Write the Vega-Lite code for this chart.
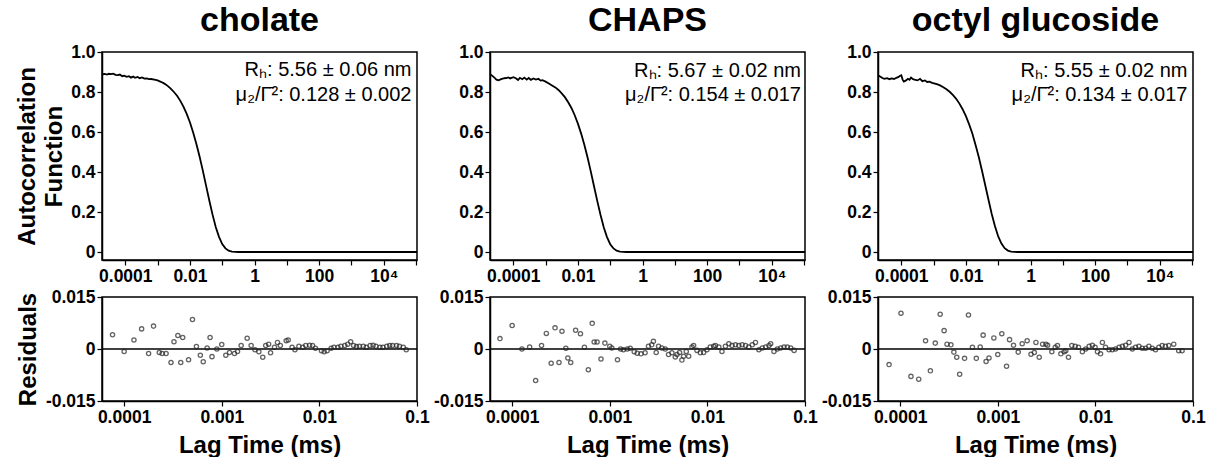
{
  "$schema": "https://vega.github.io/schema/vega-lite/v6.json",
  "background": "white",
  "padding": {"left": 14, "top": 3, "right": 2, "bottom": 2},
  "config": {
    "view": {"stroke": "black", "strokeWidth": 1.5},
    "font": "Liberation Sans",
    "axis": {"grid": false, "domainColor": "black", "domainWidth": 1.5, "tickColor": "black", "tickWidth": 1.2, "tickSize": 5,
      "labelFont": "Liberation Sans", "labelFontWeight": "bold", "labelFontSize": 17.5, "labelColor": "black", "labelPadding": 2,
      "labelOverlap": false, "labelFlush": false,
      "titleFont": "Liberation Sans", "titleFontWeight": "bold", "titleFontSize": 24, "titleColor": "black"},
    "title": {"font": "Liberation Sans", "fontSize": 34, "fontWeight": "bold", "color": "black", "offset": 5}
  },
  "datasets": {
    "acf": [
      {"d":"cholate","t":1.9e-5,"g":0.888},{"d":"cholate","t":2.3e-5,"g":0.890},{"d":"cholate","t":2.7e-5,"g":0.887},{"d":"cholate","t":3.1e-5,"g":0.891},{"d":"cholate","t":3.6e-5,"g":0.889},{"d":"cholate","t":4.2e-5,"g":0.892},{"d":"cholate","t":5e-5,"g":0.886},{"d":"cholate","t":5.8e-5,"g":0.884},{"d":"cholate","t":6.8e-5,"g":0.887},{"d":"cholate","t":8e-5,"g":0.879},{"d":"cholate","t":9.3e-5,"g":0.882},{"d":"cholate","t":1.1e-4,"g":0.876},{"d":"cholate","t":1.3e-4,"g":0.879},{"d":"cholate","t":1.5e-4,"g":0.872},{"d":"cholate","t":1.75e-4,"g":0.877},{"d":"cholate","t":2e-4,"g":0.871},{"d":"cholate","t":2.4e-4,"g":0.875},{"d":"cholate","t":2.8e-4,"g":0.869},{"d":"cholate","t":3.3e-4,"g":0.873},{"d":"cholate","t":3.9e-4,"g":0.867},{"d":"cholate","t":4.6e-4,"g":0.868},{"d":"cholate","t":5.4e-4,"g":0.864},{"d":"cholate","t":6.3e-4,"g":0.865},{"d":"cholate","t":7.9e-4,"g":0.862},{"d":"cholate","t":1e-3,"g":0.858},{"d":"cholate","t":1.26e-3,"g":0.851},{"d":"cholate","t":1.58e-3,"g":0.843},{"d":"cholate","t":2e-3,"g":0.832},{"d":"cholate","t":2.5e-3,"g":0.818},{"d":"cholate","t":3.2e-3,"g":0.800},{"d":"cholate","t":4e-3,"g":0.781},{"d":"cholate","t":5e-3,"g":0.757},{"d":"cholate","t":6.3e-3,"g":0.727},{"d":"cholate","t":7.9e-3,"g":0.692},{"d":"cholate","t":0.01,"g":0.649},{"d":"cholate","t":0.0126,"g":0.598},{"d":"cholate","t":0.0158,"g":0.541},{"d":"cholate","t":0.02,"g":0.476},{"d":"cholate","t":0.025,"g":0.408},{"d":"cholate","t":0.032,"g":0.328},{"d":"cholate","t":0.04,"g":0.256},{"d":"cholate","t":0.05,"g":0.188},{"d":"cholate","t":0.063,"g":0.125},{"d":"cholate","t":0.079,"g":0.077},{"d":"cholate","t":0.1,"g":0.040},{"d":"cholate","t":0.126,"g":0.018},{"d":"cholate","t":0.158,"g":0.0066},{"d":"cholate","t":0.2,"g":0.0018},{"d":"cholate","t":0.25,"g":0.0004},{"d":"cholate","t":0.32,"g":0.0001},{"d":"cholate","t":0.5,"g":0},{"d":"cholate","t":1,"g":0},{"d":"cholate","t":10,"g":0},{"d":"cholate","t":100,"g":0},{"d":"cholate","t":1000,"g":0},{"d":"cholate","t":10000,"g":0},{"d":"cholate","t":107000,"g":0},
      {"d":"CHAPS","t":1.9e-5,"g":0.889},{"d":"CHAPS","t":2.2e-5,"g":0.882},{"d":"CHAPS","t":2.6e-5,"g":0.872},{"d":"CHAPS","t":3e-5,"g":0.862},{"d":"CHAPS","t":3.5e-5,"g":0.858},{"d":"CHAPS","t":4.2e-5,"g":0.864},{"d":"CHAPS","t":5e-5,"g":0.868},{"d":"CHAPS","t":6e-5,"g":0.870},{"d":"CHAPS","t":7e-5,"g":0.873},{"d":"CHAPS","t":8e-5,"g":0.868},{"d":"CHAPS","t":1e-4,"g":0.874},{"d":"CHAPS","t":1.2e-4,"g":0.869},{"d":"CHAPS","t":1.4e-4,"g":0.860},{"d":"CHAPS","t":1.6e-4,"g":0.871},{"d":"CHAPS","t":1.9e-4,"g":0.864},{"d":"CHAPS","t":2.2e-4,"g":0.872},{"d":"CHAPS","t":2.6e-4,"g":0.862},{"d":"CHAPS","t":3e-4,"g":0.870},{"d":"CHAPS","t":3.5e-4,"g":0.861},{"d":"CHAPS","t":4.2e-4,"g":0.868},{"d":"CHAPS","t":5e-4,"g":0.862},{"d":"CHAPS","t":6e-4,"g":0.866},{"d":"CHAPS","t":7e-4,"g":0.857},{"d":"CHAPS","t":8e-4,"g":0.859},{"d":"CHAPS","t":1e-3,"g":0.852},{"d":"CHAPS","t":1.26e-3,"g":0.843},{"d":"CHAPS","t":1.58e-3,"g":0.833},{"d":"CHAPS","t":2e-3,"g":0.823},{"d":"CHAPS","t":2.5e-3,"g":0.810},{"d":"CHAPS","t":3.2e-3,"g":0.792},{"d":"CHAPS","t":4e-3,"g":0.773},{"d":"CHAPS","t":5e-3,"g":0.749},{"d":"CHAPS","t":6.3e-3,"g":0.720},{"d":"CHAPS","t":7.9e-3,"g":0.685},{"d":"CHAPS","t":0.01,"g":0.642},{"d":"CHAPS","t":0.0126,"g":0.592},{"d":"CHAPS","t":0.0158,"g":0.536},{"d":"CHAPS","t":0.02,"g":0.471},{"d":"CHAPS","t":0.025,"g":0.403},{"d":"CHAPS","t":0.032,"g":0.324},{"d":"CHAPS","t":0.04,"g":0.253},{"d":"CHAPS","t":0.05,"g":0.186},{"d":"CHAPS","t":0.063,"g":0.124},{"d":"CHAPS","t":0.079,"g":0.076},{"d":"CHAPS","t":0.1,"g":0.039},{"d":"CHAPS","t":0.126,"g":0.018},{"d":"CHAPS","t":0.158,"g":0.0065},{"d":"CHAPS","t":0.2,"g":0.0018},{"d":"CHAPS","t":0.25,"g":0.0004},{"d":"CHAPS","t":0.32,"g":0},{"d":"CHAPS","t":1,"g":0},{"d":"CHAPS","t":10,"g":0},{"d":"CHAPS","t":100,"g":0},{"d":"CHAPS","t":1000,"g":0},{"d":"CHAPS","t":10000,"g":0},{"d":"CHAPS","t":107000,"g":0},
      {"d":"OG","t":1.9e-5,"g":0.884},{"d":"OG","t":2.2e-5,"g":0.878},{"d":"OG","t":2.6e-5,"g":0.870},{"d":"OG","t":3e-5,"g":0.866},{"d":"OG","t":3.6e-5,"g":0.869},{"d":"OG","t":4.3e-5,"g":0.864},{"d":"OG","t":5e-5,"g":0.868},{"d":"OG","t":6e-5,"g":0.865},{"d":"OG","t":7e-5,"g":0.871},{"d":"OG","t":8e-5,"g":0.874},{"d":"OG","t":9e-5,"g":0.880},{"d":"OG","t":1e-4,"g":0.884},{"d":"OG","t":1.1e-4,"g":0.862},{"d":"OG","t":1.2e-4,"g":0.852},{"d":"OG","t":1.4e-4,"g":0.858},{"d":"OG","t":1.6e-4,"g":0.866},{"d":"OG","t":1.8e-4,"g":0.861},{"d":"OG","t":2e-4,"g":0.872},{"d":"OG","t":2.3e-4,"g":0.864},{"d":"OG","t":2.7e-4,"g":0.861},{"d":"OG","t":3.2e-4,"g":0.858},{"d":"OG","t":3.8e-4,"g":0.866},{"d":"OG","t":4.5e-4,"g":0.854},{"d":"OG","t":5.4e-4,"g":0.858},{"d":"OG","t":6.3e-4,"g":0.850},{"d":"OG","t":7.5e-4,"g":0.852},{"d":"OG","t":9e-4,"g":0.846},{"d":"OG","t":1.26e-3,"g":0.839},{"d":"OG","t":1.58e-3,"g":0.833},{"d":"OG","t":2e-3,"g":0.824},{"d":"OG","t":2.5e-3,"g":0.814},{"d":"OG","t":3.2e-3,"g":0.800},{"d":"OG","t":4e-3,"g":0.784},{"d":"OG","t":5e-3,"g":0.766},{"d":"OG","t":6.3e-3,"g":0.742},{"d":"OG","t":7.9e-3,"g":0.714},{"d":"OG","t":0.01,"g":0.679},{"d":"OG","t":0.0126,"g":0.638},{"d":"OG","t":0.0158,"g":0.593},{"d":"OG","t":0.02,"g":0.534},{"d":"OG","t":0.025,"g":0.475},{"d":"OG","t":0.032,"g":0.401},{"d":"OG","t":0.04,"g":0.331},{"d":"OG","t":0.05,"g":0.261},{"d":"OG","t":0.063,"g":0.190},{"d":"OG","t":0.079,"g":0.130},{"d":"OG","t":0.1,"g":0.078},{"d":"OG","t":0.126,"g":0.042},{"d":"OG","t":0.158,"g":0.019},{"d":"OG","t":0.2,"g":0.0071},{"d":"OG","t":0.25,"g":0.0021},{"d":"OG","t":0.32,"g":0.0004},{"d":"OG","t":0.4,"g":0.0001},{"d":"OG","t":1,"g":0},{"d":"OG","t":10,"g":0},{"d":"OG","t":100,"g":0},{"d":"OG","t":1000,"g":0},{"d":"OG","t":10000,"g":0},{"d":"OG","t":107000,"g":0}
    ],
    "ann": [
      {"d":"cholate","t":72000,"g":0.88,"label":"Rₕ: 5.56 ± 0.06 nm"},
      {"d":"cholate","t":72000,"g":0.755,"label":"μ₂/Γ̄²: 0.128 ± 0.002"},
      {"d":"CHAPS","t":80000,"g":0.877,"label":"Rₕ: 5.67 ± 0.02 nm"},
      {"d":"CHAPS","t":80000,"g":0.754,"label":"μ₂/Γ̄²: 0.154 ± 0.017"},
      {"d":"OG","t":72000,"g":0.877,"label":"Rₕ: 5.55 ± 0.02 nm"},
      {"d":"OG","t":72000,"g":0.754,"label":"μ₂/Γ̄²: 0.134 ± 0.017"}
    ],
    "res": [
      {"d":"cholate","t":7.6e-5,"r":0.0041},{"d":"cholate","t":1.0e-4,"r":-0.0007},{"d":"cholate","t":1.26e-4,"r":0.0026},{"d":"cholate","t":1.51e-4,"r":0.0058},{"d":"cholate","t":1.78e-4,"r":-0.0013},{"d":"cholate","t":2.0e-4,"r":0.0066},{"d":"cholate","t":2.29e-4,"r":-0.0010},{"d":"cholate","t":2.45e-4,"r":-0.0013},{"d":"cholate","t":2.69e-4,"r":-0.0013},{"d":"cholate","t":3.02e-4,"r":-0.0039},{"d":"cholate","t":3.24e-4,"r":0.0021},{"d":"cholate","t":3.55e-4,"r":0.0039},{"d":"cholate","t":3.80e-4,"r":-0.0039},{"d":"cholate","t":3.98e-4,"r":0.0033},{"d":"cholate","t":4.57e-4,"r":-0.0031},{"d":"cholate","t":5.01e-4,"r":0.0085},{"d":"cholate","t":5.50e-4,"r":0.0007},{"d":"cholate","t":6.03e-4,"r":-0.0018},{"d":"cholate","t":6.46e-4,"r":-0.0037},{"d":"cholate","t":7.08e-4,"r":0.0003},{"d":"cholate","t":7.59e-4,"r":0.0033},{"d":"cholate","t":7.94e-4,"r":-0.0022},{"d":"cholate","t":8.91e-4,"r":0.0},{"d":"cholate","t":1.0e-3,"r":0.0013},{"d":"cholate","t":1.10e-3,"r":-0.0018},{"d":"cholate","t":1.20e-3,"r":-0.0010},{"d":"cholate","t":1.35e-3,"r":-0.0013},{"d":"cholate","t":1.45e-3,"r":-0.0007},{"d":"cholate","t":1.58e-3,"r":0.0010},{"d":"cholate","t":1.82e-3,"r":0.0031},{"d":"cholate","t":2.0e-3,"r":0.0010},{"d":"cholate","t":2.19e-3,"r":-0.0002},{"d":"cholate","t":2.40e-3,"r":-0.0008},{"d":"cholate","t":2.63e-3,"r":-0.0024},{"d":"cholate","t":2.82e-3,"r":0.0010},{"d":"cholate","t":3.02e-3,"r":0.0014},{"d":"cholate","t":3.16e-3,"r":-0.0011},{"d":"cholate","t":3.47e-3,"r":0.0005},{"d":"cholate","t":3.72e-3,"r":0.0019},{"d":"cholate","t":3.98e-3,"r":0.0010},{"d":"cholate","t":4.57e-3,"r":0.0024},{"d":"cholate","t":4.79e-3,"r":0.0026},{"d":"cholate","t":5.25e-3,"r":0.0005},{"d":"cholate","t":5.62e-3,"r":-0.0002},{"d":"cholate","t":6.17e-3,"r":0.0008},{"d":"cholate","t":6.76e-3,"r":0.0005},{"d":"cholate","t":7.24e-3,"r":0.0010},{"d":"cholate","t":7.94e-3,"r":0.0011},{"d":"cholate","t":8.51e-3,"r":0.0010},{"d":"cholate","t":9.12e-3,"r":0.0002},{"d":"cholate","t":0.0105,"r":-0.0005},{"d":"cholate","t":0.0112,"r":-0.0008},{"d":"cholate","t":0.0120,"r":-0.0005},{"d":"cholate","t":0.0132,"r":0.0002},{"d":"cholate","t":0.0141,"r":0.0005},{"d":"cholate","t":0.0155,"r":0.0005},{"d":"cholate","t":0.0166,"r":0.0008},{"d":"cholate","t":0.0182,"r":0.0010},{"d":"cholate","t":0.0195,"r":0.0014},{"d":"cholate","t":0.0209,"r":0.0021},{"d":"cholate","t":0.0224,"r":0.0010},{"d":"cholate","t":0.0240,"r":0.0007},{"d":"cholate","t":0.0257,"r":0.0008},{"d":"cholate","t":0.0282,"r":0.0008},{"d":"cholate","t":0.0302,"r":0.0005},{"d":"cholate","t":0.0331,"r":0.0010},{"d":"cholate","t":0.0355,"r":0.0011},{"d":"cholate","t":0.0380,"r":0.0008},{"d":"cholate","t":0.0417,"r":0.0005},{"d":"cholate","t":0.0447,"r":0.0005},{"d":"cholate","t":0.0490,"r":0.0008},{"d":"cholate","t":0.0525,"r":0.0010},{"d":"cholate","t":0.0562,"r":0.0010},{"d":"cholate","t":0.0617,"r":0.0010},{"d":"cholate","t":0.0661,"r":0.0008},{"d":"cholate","t":0.0724,"r":0.0005},{"d":"cholate","t":0.0776,"r":-0.0002},
      {"d":"CHAPS","t":7.5e-5,"r":0.0030},{"d":"CHAPS","t":1.0e-4,"r":0.0068},{"d":"CHAPS","t":1.26e-4,"r":0.0},{"d":"CHAPS","t":1.51e-4,"r":0.0006},{"d":"CHAPS","t":1.74e-4,"r":-0.0091},{"d":"CHAPS","t":2.0e-4,"r":0.0010},{"d":"CHAPS","t":2.24e-4,"r":0.0045},{"d":"CHAPS","t":2.51e-4,"r":-0.0041},{"d":"CHAPS","t":2.75e-4,"r":0.0061},{"d":"CHAPS","t":3.02e-4,"r":-0.0039},{"d":"CHAPS","t":3.24e-4,"r":0.0051},{"d":"CHAPS","t":3.55e-4,"r":0.0002},{"d":"CHAPS","t":3.72e-4,"r":-0.0026},{"d":"CHAPS","t":3.98e-4,"r":-0.0039},{"d":"CHAPS","t":4.47e-4,"r":0.0054},{"d":"CHAPS","t":5.01e-4,"r":0.0044},{"d":"CHAPS","t":5.50e-4,"r":0.0005},{"d":"CHAPS","t":6.03e-4,"r":-0.0060},{"d":"CHAPS","t":6.61e-4,"r":0.0074},{"d":"CHAPS","t":6.92e-4,"r":0.0020},{"d":"CHAPS","t":7.41e-4,"r":0.0020},{"d":"CHAPS","t":8.13e-4,"r":-0.0029},{"d":"CHAPS","t":8.91e-4,"r":0.0017},{"d":"CHAPS","t":1.0e-3,"r":0.0008},{"d":"CHAPS","t":1.05e-3,"r":0.0003},{"d":"CHAPS","t":1.20e-3,"r":-0.0031},{"d":"CHAPS","t":1.29e-3,"r":0.0},{"d":"CHAPS","t":1.38e-3,"r":-0.0002},{"d":"CHAPS","t":1.51e-3,"r":0.0},{"d":"CHAPS","t":1.62e-3,"r":0.0002},{"d":"CHAPS","t":1.78e-3,"r":-0.0008},{"d":"CHAPS","t":1.91e-3,"r":-0.0012},{"d":"CHAPS","t":2.09e-3,"r":-0.0014},{"d":"CHAPS","t":2.30e-3,"r":-0.0011},{"d":"CHAPS","t":2.49e-3,"r":0.0008},{"d":"CHAPS","t":2.69e-3,"r":0.0012},{"d":"CHAPS","t":2.80e-3,"r":0.0022},{"d":"CHAPS","t":2.99e-3,"r":-0.0010},{"d":"CHAPS","t":3.16e-3,"r":0.0008},{"d":"CHAPS","t":3.42e-3,"r":0.0003},{"d":"CHAPS","t":3.70e-3,"r":0.0},{"d":"CHAPS","t":4.0e-3,"r":-0.0016},{"d":"CHAPS","t":4.33e-3,"r":-0.0011},{"d":"CHAPS","t":4.69e-3,"r":-0.0023},{"d":"CHAPS","t":4.88e-3,"r":-0.0016},{"d":"CHAPS","t":5.19e-3,"r":-0.0010},{"d":"CHAPS","t":5.48e-3,"r":-0.0032},{"d":"CHAPS","t":5.70e-3,"r":-0.0021},{"d":"CHAPS","t":6.08e-3,"r":-0.0007},{"d":"CHAPS","t":6.43e-3,"r":-0.0021},{"d":"CHAPS","t":6.95e-3,"r":0.0006},{"d":"CHAPS","t":7.23e-3,"r":0.0010},{"d":"CHAPS","t":7.82e-3,"r":-0.0004},{"d":"CHAPS","t":8.47e-3,"r":-0.0011},{"d":"CHAPS","t":9.16e-3,"r":-0.0010},{"d":"CHAPS","t":9.91e-3,"r":-0.0002},{"d":"CHAPS","t":0.0107,"r":0.0006},{"d":"CHAPS","t":0.0116,"r":0.0008},{"d":"CHAPS","t":0.0121,"r":0.0010},{"d":"CHAPS","t":0.0131,"r":0.0006},{"d":"CHAPS","t":0.0141,"r":-0.0007},{"d":"CHAPS","t":0.0153,"r":0.0008},{"d":"CHAPS","t":0.0166,"r":0.0015},{"d":"CHAPS","t":0.0179,"r":0.0010},{"d":"CHAPS","t":0.0194,"r":0.0012},{"d":"CHAPS","t":0.0210,"r":0.0010},{"d":"CHAPS","t":0.0227,"r":0.0012},{"d":"CHAPS","t":0.0246,"r":0.0010},{"d":"CHAPS","t":0.0266,"r":0.0006},{"d":"CHAPS","t":0.0288,"r":0.0012},{"d":"CHAPS","t":0.0311,"r":0.0019},{"d":"CHAPS","t":0.0337,"r":-0.0002},{"d":"CHAPS","t":0.0365,"r":0.0003},{"d":"CHAPS","t":0.0395,"r":0.0006},{"d":"CHAPS","t":0.0428,"r":0.0010},{"d":"CHAPS","t":0.0445,"r":0.0015},{"d":"CHAPS","t":0.0481,"r":-0.0007},{"d":"CHAPS","t":0.0520,"r":0.0},{"d":"CHAPS","t":0.0564,"r":0.0003},{"d":"CHAPS","t":0.0610,"r":0.0006},{"d":"CHAPS","t":0.0659,"r":0.0006},{"d":"CHAPS","t":0.0714,"r":0.0003},{"d":"CHAPS","t":0.0773,"r":-0.0004},
      {"d":"OG","t":7.7e-5,"r":-0.0045},{"d":"OG","t":1.02e-4,"r":0.0103},{"d":"OG","t":1.29e-4,"r":-0.0079},{"d":"OG","t":1.55e-4,"r":-0.0087},{"d":"OG","t":1.82e-4,"r":0.0024},{"d":"OG","t":2.04e-4,"r":-0.0063},{"d":"OG","t":2.29e-4,"r":0.0017},{"d":"OG","t":2.57e-4,"r":0.0100},{"d":"OG","t":2.82e-4,"r":0.0053},{"d":"OG","t":3.02e-4,"r":0.0014},{"d":"OG","t":3.31e-4,"r":0.0012},{"d":"OG","t":3.55e-4,"r":-0.0009},{"d":"OG","t":3.80e-4,"r":-0.0024},{"d":"OG","t":4.07e-4,"r":-0.0073},{"d":"OG","t":4.57e-4,"r":-0.0027},{"d":"OG","t":5.01e-4,"r":0.0098},{"d":"OG","t":5.50e-4,"r":0.0005},{"d":"OG","t":6.03e-4,"r":-0.0027},{"d":"OG","t":6.61e-4,"r":0.0006},{"d":"OG","t":7.08e-4,"r":0.0040},{"d":"OG","t":7.59e-4,"r":-0.0036},{"d":"OG","t":8.13e-4,"r":-0.0026},{"d":"OG","t":9.12e-4,"r":0.0032},{"d":"OG","t":1.0e-3,"r":-0.0016},{"d":"OG","t":1.10e-3,"r":0.0044},{"d":"OG","t":1.23e-3,"r":-0.0050},{"d":"OG","t":1.32e-3,"r":0.0027},{"d":"OG","t":1.45e-3,"r":0.0011},{"d":"OG","t":1.62e-3,"r":-0.0009},{"d":"OG","t":1.78e-3,"r":0.0015},{"d":"OG","t":2.0e-3,"r":0.0024},{"d":"OG","t":2.19e-3,"r":-0.0015},{"d":"OG","t":2.37e-3,"r":-0.0010},{"d":"OG","t":2.46e-3,"r":0.0019},{"d":"OG","t":2.66e-3,"r":-0.0024},{"d":"OG","t":2.88e-3,"r":0.0014},{"d":"OG","t":3.11e-3,"r":0.0014},{"d":"OG","t":3.24e-3,"r":0.0011},{"d":"OG","t":3.58e-3,"r":-0.0008},{"d":"OG","t":3.88e-3,"r":0.0005},{"d":"OG","t":4.09e-3,"r":0.0010},{"d":"OG","t":4.43e-3,"r":-0.0014},{"d":"OG","t":4.79e-3,"r":-0.0008},{"d":"OG","t":4.98e-3,"r":-0.0005},{"d":"OG","t":5.30e-3,"r":-0.0024},{"d":"OG","t":5.73e-3,"r":0.0010},{"d":"OG","t":6.21e-3,"r":0.0008},{"d":"OG","t":6.71e-3,"r":0.0005},{"d":"OG","t":7.36e-3,"r":-0.0008},{"d":"OG","t":7.96e-3,"r":0.0},{"d":"OG","t":8.63e-3,"r":0.0008},{"d":"OG","t":9.31e-3,"r":0.0011},{"d":"OG","t":9.93e-3,"r":0.0005},{"d":"OG","t":0.0105,"r":-0.0008},{"d":"OG","t":0.0113,"r":-0.0014},{"d":"OG","t":0.0118,"r":0.0019},{"d":"OG","t":0.0127,"r":0.0005},{"d":"OG","t":0.0138,"r":-0.0002},{"d":"OG","t":0.0149,"r":-0.0002},{"d":"OG","t":0.0161,"r":0.0},{"d":"OG","t":0.0175,"r":0.0005},{"d":"OG","t":0.0189,"r":0.0008},{"d":"OG","t":0.0204,"r":0.0011},{"d":"OG","t":0.0221,"r":0.0019},{"d":"OG","t":0.0239,"r":0.0},{"d":"OG","t":0.0258,"r":0.0005},{"d":"OG","t":0.0279,"r":0.0008},{"d":"OG","t":0.0302,"r":0.0002},{"d":"OG","t":0.0327,"r":0.0002},{"d":"OG","t":0.0353,"r":0.0008},{"d":"OG","t":0.0382,"r":0.0002},{"d":"OG","t":0.0413,"r":-0.0002},{"d":"OG","t":0.0447,"r":0.0005},{"d":"OG","t":0.0483,"r":0.0010},{"d":"OG","t":0.0522,"r":0.0008},{"d":"OG","t":0.0565,"r":0.0010},{"d":"OG","t":0.0635,"r":0.0014},{"d":"OG","t":0.0714,"r":-0.0005},{"d":"OG","t":0.0773,"r":-0.0005}
    ]
  },
  "hconcat": [
    {
      "vconcat": [
        {
          "width": 315, "height": 208,
          "title": {"text": "cholate"},
          "encoding": {
            "x": {"field": "t", "type": "quantitative", "scale": {"type": "log", "domain": [1.9e-5, 107000], "nice": false},
              "axis": {"title": null, "values": [0.0001, 0.001, 0.01, 0.1, 1, 10, 100, 1000, 10000, 100000],
                "labelExpr": "abs(datum.value-0.0001)<0.000001 ? '0.0001' : abs(datum.value-0.01)<0.0001 ? '0.01' : abs(datum.value-1)<0.01 ? '1' : abs(datum.value-100)<1 ? '100' : abs(datum.value-10000)<100 ? '10⁴' : ''"}},
            "y": {"field": "g", "type": "quantitative", "scale": {"domain": [-0.04, 1.0], "nice": false, "zero": false},
              "axis": {"title": ["Autocorrelation", "Function"], "titleLineHeight": 27, "titlePadding": 4, "values": [0, 0.2, 0.4, 0.6, 0.8, 1.0],
                "labelExpr": "datum.value == 0 ? '0' : format(datum.value, '.1f')"}}
          },
          "layer": [
            {"data": {"name": "acf"}, "transform": [{"filter": "datum.d == 'cholate'"}], "mark": {"type": "line", "color": "black", "strokeWidth": 1.8, "clip": true}},
            {"data": {"name": "ann"}, "transform": [{"filter": "datum.d == 'cholate'"}], "mark": {"type": "text", "align": "right", "baseline": "alphabetic", "fontSize": 20, "font": "Liberation Sans", "color": "black"}, "encoding": {"text": {"field": "label"}}}
          ]
        },
        {
          "width": 315, "height": 104,
          "encoding": {
            "x": {"field": "t", "type": "quantitative", "scale": {"type": "log", "domain": [5.93e-5, 0.1], "nice": false},
              "axis": {"title": "Lag Time (ms)", "titlePadding": 8, "values": [0.0001, 0.001, 0.01, 0.1],
                "labelExpr": "datum.value < 0.0002 ? '0.0001' : datum.value < 0.002 ? '0.001' : datum.value < 0.02 ? '0.01' : '0.1'"}},
            "y": {"field": "r", "type": "quantitative", "scale": {"domain": [-0.015, 0.015], "nice": false},
              "axis": {"title": "Residuals", "titlePadding": 5, "values": [-0.015, 0, 0.015],
                "labelExpr": "datum.value > 0.01 ? '0.015' : datum.value < -0.01 ? '-0.015' : '0'"}}
          },
          "layer": [
            {"data": {"values": [{"r": 0}]}, "mark": {"type": "rule", "color": "black", "strokeWidth": 1.5}, "encoding": {"x": null}},
            {"data": {"name": "res"}, "transform": [{"filter": "datum.d == 'cholate'"}], "mark": {"type": "point", "shape": "circle", "size": 18, "filled": false, "stroke": "#222", "strokeWidth": 1.3, "clip": true}}
          ]
        }
      ],
      "spacing": 37, "bounds": "flush"
    },
    {
      "vconcat": [
        {
          "width": 315, "height": 208,
          "title": {"text": "CHAPS"},
          "encoding": {
            "x": {"field": "t", "type": "quantitative", "scale": {"type": "log", "domain": [1.9e-5, 107000], "nice": false},
              "axis": {"title": null, "values": [0.0001, 0.001, 0.01, 0.1, 1, 10, 100, 1000, 10000, 100000],
                "labelExpr": "abs(datum.value-0.0001)<0.000001 ? '0.0001' : abs(datum.value-0.01)<0.0001 ? '0.01' : abs(datum.value-1)<0.01 ? '1' : abs(datum.value-100)<1 ? '100' : abs(datum.value-10000)<100 ? '10⁴' : ''"}},
            "y": {"field": "g", "type": "quantitative", "scale": {"domain": [-0.04, 1.0], "nice": false, "zero": false},
              "axis": {"title": null, "values": [0, 0.2, 0.4, 0.6, 0.8, 1.0],
                "labelExpr": "datum.value == 0 ? '0' : format(datum.value, '.1f')"}}
          },
          "layer": [
            {"data": {"name": "acf"}, "transform": [{"filter": "datum.d == 'CHAPS'"}], "mark": {"type": "line", "color": "black", "strokeWidth": 1.8, "clip": true}},
            {"data": {"name": "ann"}, "transform": [{"filter": "datum.d == 'CHAPS'"}], "mark": {"type": "text", "align": "right", "baseline": "alphabetic", "fontSize": 20, "font": "Liberation Sans", "color": "black"}, "encoding": {"text": {"field": "label"}}}
          ]
        },
        {
          "width": 315, "height": 104,
          "encoding": {
            "x": {"field": "t", "type": "quantitative", "scale": {"type": "log", "domain": [5.93e-5, 0.1], "nice": false},
              "axis": {"title": "Lag Time (ms)", "titlePadding": 8, "values": [0.0001, 0.001, 0.01, 0.1],
                "labelExpr": "datum.value < 0.0002 ? '0.0001' : datum.value < 0.002 ? '0.001' : datum.value < 0.02 ? '0.01' : '0.1'"}},
            "y": {"field": "r", "type": "quantitative", "scale": {"domain": [-0.015, 0.015], "nice": false},
              "axis": {"title": null, "values": [-0.015, 0, 0.015],
                "labelExpr": "datum.value > 0.01 ? '0.015' : datum.value < -0.01 ? '-0.015' : '0'"}}
          },
          "layer": [
            {"data": {"values": [{"r": 0}]}, "mark": {"type": "rule", "color": "black", "strokeWidth": 1.5}, "encoding": {"x": null}},
            {"data": {"name": "res"}, "transform": [{"filter": "datum.d == 'CHAPS'"}], "mark": {"type": "point", "shape": "circle", "size": 18, "filled": false, "stroke": "#222", "strokeWidth": 1.3, "clip": true}}
          ]
        }
      ],
      "spacing": 37, "bounds": "flush"
    },
    {
      "vconcat": [
        {
          "width": 315, "height": 208,
          "title": {"text": "octyl glucoside"},
          "encoding": {
            "x": {"field": "t", "type": "quantitative", "scale": {"type": "log", "domain": [1.9e-5, 107000], "nice": false},
              "axis": {"title": null, "values": [0.0001, 0.001, 0.01, 0.1, 1, 10, 100, 1000, 10000, 100000],
                "labelExpr": "abs(datum.value-0.0001)<0.000001 ? '0.0001' : abs(datum.value-0.01)<0.0001 ? '0.01' : abs(datum.value-1)<0.01 ? '1' : abs(datum.value-100)<1 ? '100' : abs(datum.value-10000)<100 ? '10⁴' : ''"}},
            "y": {"field": "g", "type": "quantitative", "scale": {"domain": [-0.04, 1.0], "nice": false, "zero": false},
              "axis": {"title": null, "values": [0, 0.2, 0.4, 0.6, 0.8, 1.0],
                "labelExpr": "datum.value == 0 ? '0' : format(datum.value, '.1f')"}}
          },
          "layer": [
            {"data": {"name": "acf"}, "transform": [{"filter": "datum.d == 'OG'"}], "mark": {"type": "line", "color": "black", "strokeWidth": 1.8, "clip": true}},
            {"data": {"name": "ann"}, "transform": [{"filter": "datum.d == 'OG'"}], "mark": {"type": "text", "align": "right", "baseline": "alphabetic", "fontSize": 20, "font": "Liberation Sans", "color": "black"}, "encoding": {"text": {"field": "label"}}}
          ]
        },
        {
          "width": 315, "height": 104,
          "encoding": {
            "x": {"field": "t", "type": "quantitative", "scale": {"type": "log", "domain": [5.93e-5, 0.1], "nice": false},
              "axis": {"title": "Lag Time (ms)", "titlePadding": 8, "values": [0.0001, 0.001, 0.01, 0.1],
                "labelExpr": "datum.value < 0.0002 ? '0.0001' : datum.value < 0.002 ? '0.001' : datum.value < 0.02 ? '0.01' : '0.1'"}},
            "y": {"field": "r", "type": "quantitative", "scale": {"domain": [-0.015, 0.015], "nice": false},
              "axis": {"title": null, "values": [-0.015, 0, 0.015],
                "labelExpr": "datum.value > 0.01 ? '0.015' : datum.value < -0.01 ? '-0.015' : '0'"}}
          },
          "layer": [
            {"data": {"values": [{"r": 0}]}, "mark": {"type": "rule", "color": "black", "strokeWidth": 1.5}, "encoding": {"x": null}},
            {"data": {"name": "res"}, "transform": [{"filter": "datum.d == 'OG'"}], "mark": {"type": "point", "shape": "circle", "size": 18, "filled": false, "stroke": "#222", "strokeWidth": 1.3, "clip": true}}
          ]
        }
      ],
      "spacing": 37, "bounds": "flush"
    }
  ],
  "spacing": 2
}
